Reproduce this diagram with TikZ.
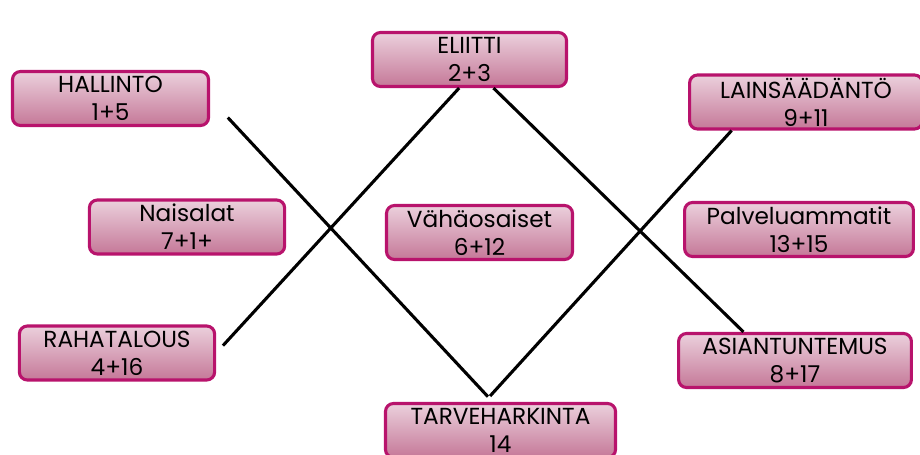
\documentclass[tikz,border=0pt]{standalone}
\usepackage{fontspec}
\setmainfont{Poppins}
\definecolor{boxedge}{HTML}{B8136C}
\definecolor{boxtop}{HTML}{EBD0DC}
\definecolor{boxbot}{HTML}{C57898}
\begin{document}
\begin{tikzpicture}
    [x=0.025cm,y=-0.025cm,
     box/.style={rectangle,rounded corners=0.2cm,draw=boxedge,line width=2.2pt,
       top color=boxtop,bottom color=boxbot,align=center,inner sep=0pt,
       minimum height=1.35cm,font=\fontsize{16.5}{20}\selectfont},
     link/.style={line width=2.2pt,black}]
    \useasboundingbox (0,0) rectangle (920,454);
    \node [box,minimum width=4.9cm] (hallinto) at (110.5,98.5) {HALLINTO\\1+5};
    \node [box,minimum width=4.85cm] (eliitti) at (469.5,59.5) {ELIITTI\\2+3};
    \node [box,minimum width=5.82cm] (lainsaadanto) at (806,102) {LAINSÄÄDÄNTÖ\\9+11};
    \node [box,minimum width=4.88cm] (naisalat) at (187,227) {Naisalat\\7+1+};
    \node [box,minimum width=4.65cm] (vahaosaiset) at (479.5,232.5) {Vähäosaiset\\6+12};
    \node [box,minimum width=5.72cm] (palveluammatit) at (799,229.5) {Palveluammatit\\13+15};
    \node [box,minimum width=4.88cm] (rahatalous) at (117,353) {RAHATALOUS\\4+16};
    \node [box,minimum width=5.82cm] (asiantuntemus) at (795,360.5) {ASIANTUNTEMUS\\8+17};
    \node [box,minimum width=5.75cm] (tarveharkinta) at (500.5,430.5) {TARVEHARKINTA\\14};
    % lines of the cross
    \draw [link,shorten <=0.65cm,shorten >=0.18cm] (hallinto.east) -- (tarveharkinta.105);
    \draw [link,shorten <=0.25cm] (rahatalous.east) -- (eliitti.250);
    \draw [link] (eliitti.310) -- (asiantuntemus.151);
    \draw [link,shorten <=0.2cm] (tarveharkinta.119) -- (lainsaadanto.201);
  \end{tikzpicture}
\end{document}
